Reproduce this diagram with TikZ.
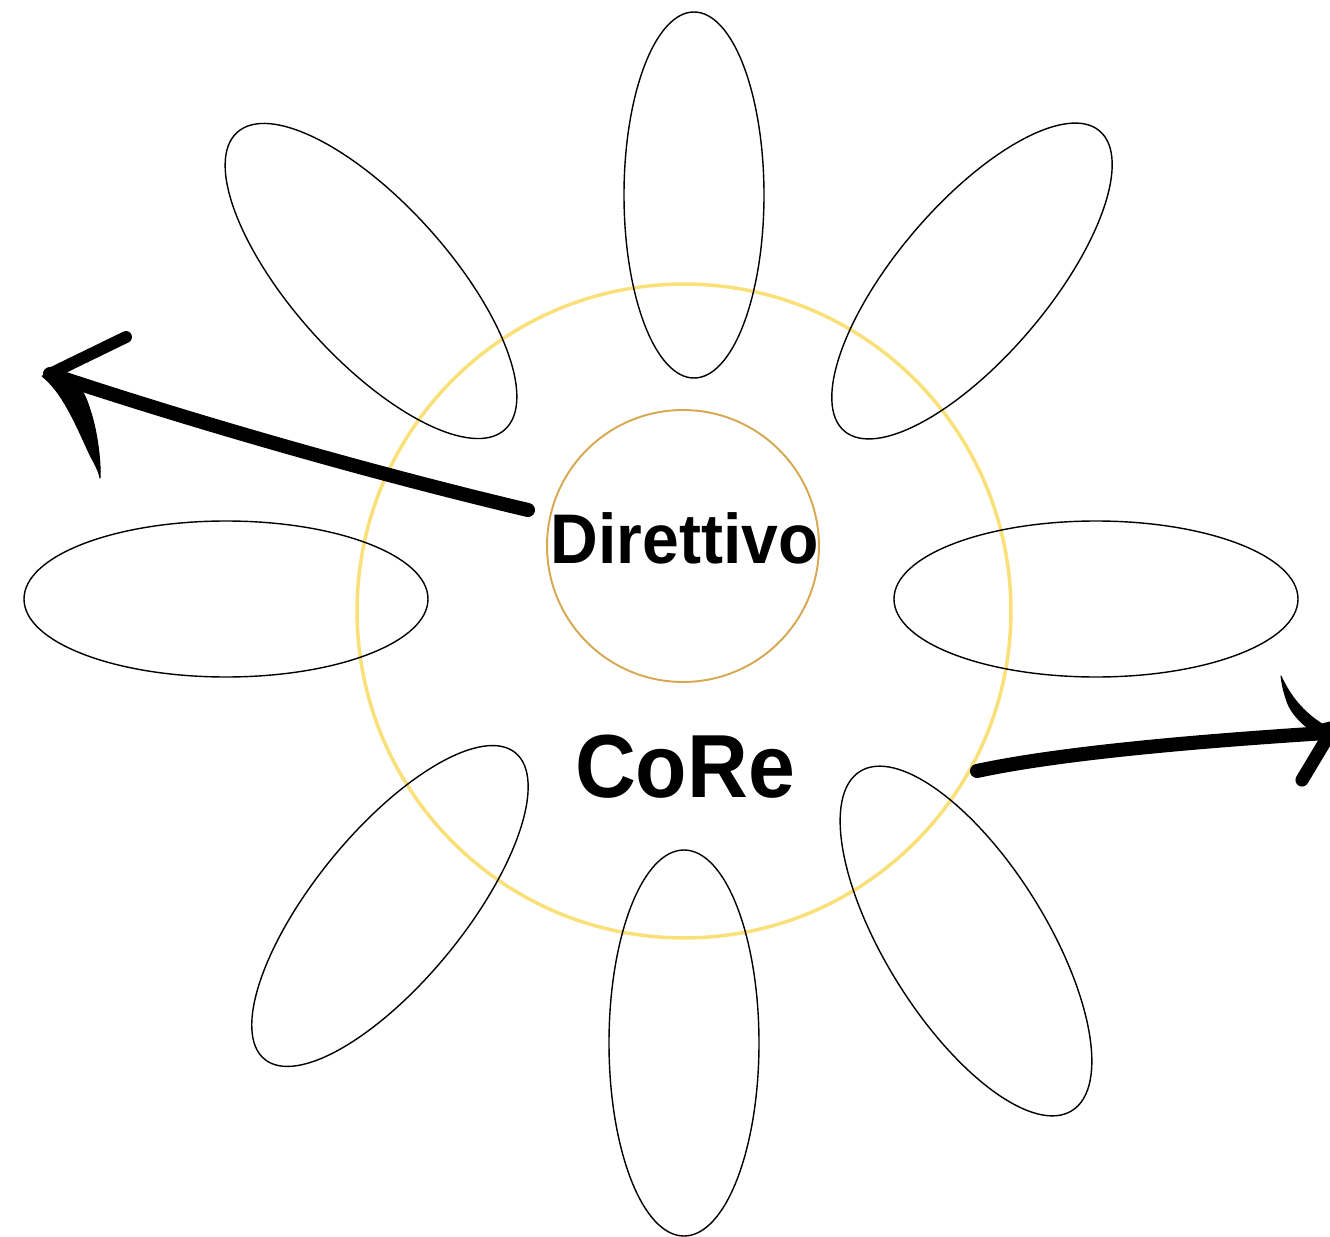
\documentclass[tikz,border=0pt]{standalone}
\usepackage{fontspec}
\newfontfamily\labfont[FakeStretch=0.94]{Liberation Sans}
\definecolor{coreyellow}{RGB}{249,224,120}
\definecolor{dirgold}{RGB}{214,168,80}
\begin{document}
\begin{tikzpicture}[x=0.02cm,y=-0.02cm,
  petal/.style={draw=black, line width=0.8pt},
  brush/.style={draw=black, line cap=round, line join=round},
  brushfill/.style={fill=black, draw=black, line width=0.6pt, line join=round}]
\useasboundingbox (0,0) rectangle (1330,1237);
% outer CoRe circle
\node[circle, draw=coreyellow, line width=2pt, minimum size=13.08cm, inner sep=0pt] (core) at (684,611) {};
% petals
\coordinate (pT) at (694,195);
\coordinate (pB) at (684,1043);
\coordinate (pL) at (226,599);
\coordinate (pR) at (1096,599);
\coordinate (pUL) at (371,281);
\coordinate (pUR) at (972,281);
\coordinate (pLL) at (390,906);
\coordinate (pLR) at (966,941);
\draw[petal] (pT) ellipse [x radius=70, y radius=183];
\draw[petal] (pB) ellipse [x radius=75, y radius=193];
\draw[petal] (pL) ellipse [x radius=202, y radius=78];
\draw[petal] (pR) ellipse [x radius=202, y radius=78];
\draw[petal, rotate around={-48:(pUL)}] (pUL) ellipse [x radius=200, y radius=78];
\draw[petal, rotate around={49.6:(pUR)}] (pUR) ellipse [x radius=197, y radius=76];
\draw[petal, rotate around={50.7:(pLL)}] (pLL) ellipse [x radius=198, y radius=75];
\draw[petal, rotate around={-58:(pLR)}] (pLR) ellipse [x radius=200, y radius=80];
% inner Direttivo circle
\node[circle, draw=dirgold, line width=1.1pt, minimum size=5.44cm, inner sep=0pt] (dir) at (683,546) {};
% texts
\node[anchor=base, inner sep=0pt, font=\labfont\bfseries\fontsize{40}{44}\selectfont] (dirtext) at (684.5,563) {Direttivo};
\node[anchor=base, inner sep=0pt, font=\labfont\bfseries\fontsize{51}{56}\selectfont] (coretext) at (685,797) {CoRe};
% left arrow
\coordinate (ltail) at (528,510);
\coordinate (ltip) at (50,374);
\draw[brush, line width=8pt] (ltail) .. controls (380,475) and (200,424) .. (ltip);
\draw[brush, line width=6.8pt] (ltip) -- (126,337);
\fill[brushfill] (42,376) .. controls (62,392) and (74,420) .. (90,455) .. controls (96,466) and (99,472) .. (100,478)
   .. controls (101,462) and (97,430) .. (90,410) .. controls (86,396) and (80,384) .. (68,376) -- cycle;
% right arrow
\coordinate (rtail) at (977,771);
\coordinate (rtip) at (1326,733);
\draw[brush, line width=8pt] (rtail) .. controls (1060,753) and (1200,741) .. (rtip);
\fill[brushfill] (1281,676) .. controls (1290,696) and (1303,712) .. (1322,724) -- (1330,722)
   -- (1330,742) .. controls (1310,732) and (1294,718) .. (1288,704) .. controls (1284,694) and (1282,684) .. (1281,676) -- cycle;
\draw[brush, line width=7.5pt] (1326,740) -- (1302,780);
\end{tikzpicture}
\end{document}
